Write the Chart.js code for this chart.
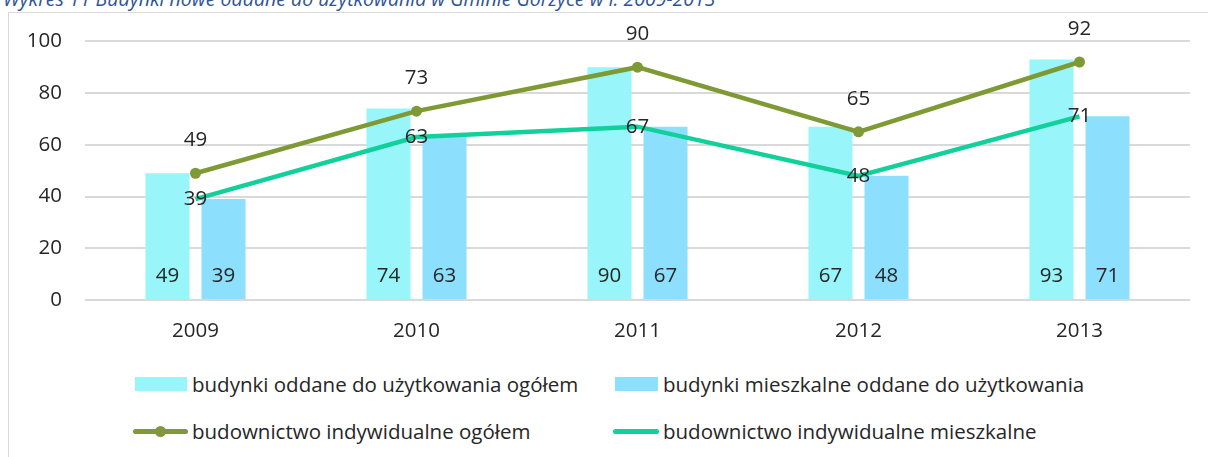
<!DOCTYPE html>
<html>
<head>
<meta charset="utf-8">
<script src="https://cdn.jsdelivr.net/npm/chart.js@4"></script>
<style>
  body { margin: 0; background: #fff; width: 1208px; height: 457px; overflow: hidden; position: relative; font-family: "Open Sans", sans-serif; }
  #title { position: absolute; left: 3px; top: -15px; font-size: 19.5px; font-style: italic; color: #2F5496; white-space: nowrap; }
  #frame { position: absolute; left: 8px; top: 12px; width: 1300px; height: 500px; border: 1.5px solid #D9D9D9; box-sizing: border-box; }
  #chart { position: absolute; left: 9px; top: 6px; }
  .leg { position: absolute; font-size: 20.5px; color: #262626; white-space: nowrap; line-height: 24px; }
  .box { position: absolute; height: 14px; }
  .ln { position: absolute; height: 5px; border-radius: 3px; }
  .dot { position: absolute; width: 11px; height: 11px; border-radius: 50%; }
</style>
</head>
<body>
<div id="title">Wykres 11 Budynki nowe oddane do użytkowania w Gminie Gorzyce w l. 2009-2013</div>
<div id="frame"></div>
<canvas id="chart" width="1199" height="352"></canvas>
<div id="legend"></div>
<script>
let years = ['2009', '2010', '2011', '2012', '2013'];
let budynkiOgolem = [49, 74, 90, 67, 93];
let budynkiMieszkalne = [39, 63, 67, 48, 71];
let indywidualneOgolem = [49, 73, 90, 65, 92];
let indywidualneMieszkalne = [39, 63, 67, 48, 71];
let yTicks = [0, 20, 40, 60, 80, 100];

let labelNames = [
    'budynki oddane do użytkowania ogółem',
    'budynki mieszkalne oddane do użytkowania',
    'budownictwo indywidualne ogółem',
    'budownictwo indywidualne mieszkalne'
];
let colors = ['#98F5F9', '#8CE0FE', '#7F9934', '#12D09B'];
let textColor = '#262626';
let fontFamily = '"Open Sans", sans-serif';
let fontSize = 20.5;

// value labels drawn on top of everything
let valueLabels = {
    id: 'valueLabels',
    afterDatasetsDraw(chart) {
        let ctx = chart.ctx;
        let zeroY = chart.scales.y.getPixelForValue(0);
        ctx.save();
        ctx.font = fontSize + 'px ' + fontFamily;
        ctx.fillStyle = textColor;
        ctx.textAlign = 'center';
        ctx.textBaseline = 'middle';
        chart.data.datasets.forEach((ds, di) => {
            let meta = chart.getDatasetMeta(di);
            meta.data.forEach((el, i) => {
                let y;
                if (ds.type === 'bar') y = zeroY - 24;
                else if (di === 2) y = el.y - 33;
                else y = el.y;
                ctx.fillText(ds.data[i], el.x, y);
            });
        });
        ctx.restore();
    }
};

let ctx = document.getElementById('chart').getContext('2d');
new Chart(ctx, {
    data: {
        labels: years,
        datasets: [{
            type: 'bar',
            label: labelNames[0],
            data: budynkiOgolem,
            backgroundColor: colors[0],
            order: 2,
            categoryPercentage: 0.507,
            barPercentage: 0.786
        }, {
            type: 'bar',
            label: labelNames[1],
            data: budynkiMieszkalne,
            backgroundColor: colors[1],
            order: 2,
            categoryPercentage: 0.507,
            barPercentage: 0.786
        }, {
            type: 'line',
            label: labelNames[2],
            data: indywidualneOgolem,
            borderColor: colors[2],
            backgroundColor: colors[2],
            borderWidth: 4.5,
            pointRadius: 5.5,
            pointBorderWidth: 0,
            order: 1
        }, {
            type: 'line',
            label: labelNames[3],
            data: indywidualneMieszkalne,
            borderColor: colors[3],
            backgroundColor: colors[3],
            borderWidth: 4.5,
            pointRadius: 0,
            order: 0
        }]
    },
    options: {
        responsive: false,
        animation: false,
        layout: { padding: { top: 0, right: 18, left: 0, bottom: 0 } },
        plugins: {
            legend: { display: false },
            tooltip: { enabled: false }
        },
        scales: {
            x: {
                grid: { display: false, drawTicks: false },
                border: { display: false },
                ticks: { padding: 19, color: textColor, font: { size: fontSize, family: fontFamily } },
                afterFit: s => { s.height = 58; }
            },
            y: {
                min: 0,
                max: 100,
                afterBuildTicks: s => { s.ticks = yTicks.map(v => ({ value: v })); },
                grid: { color: '#D9D9D9', lineWidth: 2, drawTicks: false },
                border: { display: false },
                ticks: { padding: 23, color: textColor, font: { size: fontSize, family: fontFamily } },
                afterFit: s => { s.width = 76; }
            }
        }
    },
    plugins: [valueLabels]
});

// legend, two rows by two columns
let legend = document.getElementById('legend');
let items = [
    { x: 135, y: 384, w: 52, tx: 192, kind: 'box' },
    { x: 615, y: 384, w: 43, tx: 663, kind: 'box' },
    { x: 133, y: 431, w: 55, tx: 192, kind: 'dot' },
    { x: 613, y: 431, w: 46, tx: 663, kind: 'line' }
];
items.forEach((it, i) => {
    let html = '';
    if (it.kind === 'box') {
        html += '<div class="box" style="left:' + it.x + 'px;top:' + (it.y - 7) + 'px;width:' + it.w + 'px;background:' + colors[i] + '"></div>';
    } else {
        html += '<div class="ln" style="left:' + it.x + 'px;top:' + (it.y - 2.5) + 'px;width:' + it.w + 'px;background:' + colors[i] + '"></div>';
        if (it.kind === 'dot') {
            html += '<div class="dot" style="left:' + (it.x + it.w / 2 - 5.5) + 'px;top:' + (it.y - 5.5) + 'px;background:' + colors[i] + '"></div>';
        }
    }
    html += '<div class="leg" style="left:' + it.tx + 'px;top:' + (it.y - 12) + 'px">' + labelNames[i] + '</div>';
    legend.innerHTML += html;
});
</script>
</body>
</html>
